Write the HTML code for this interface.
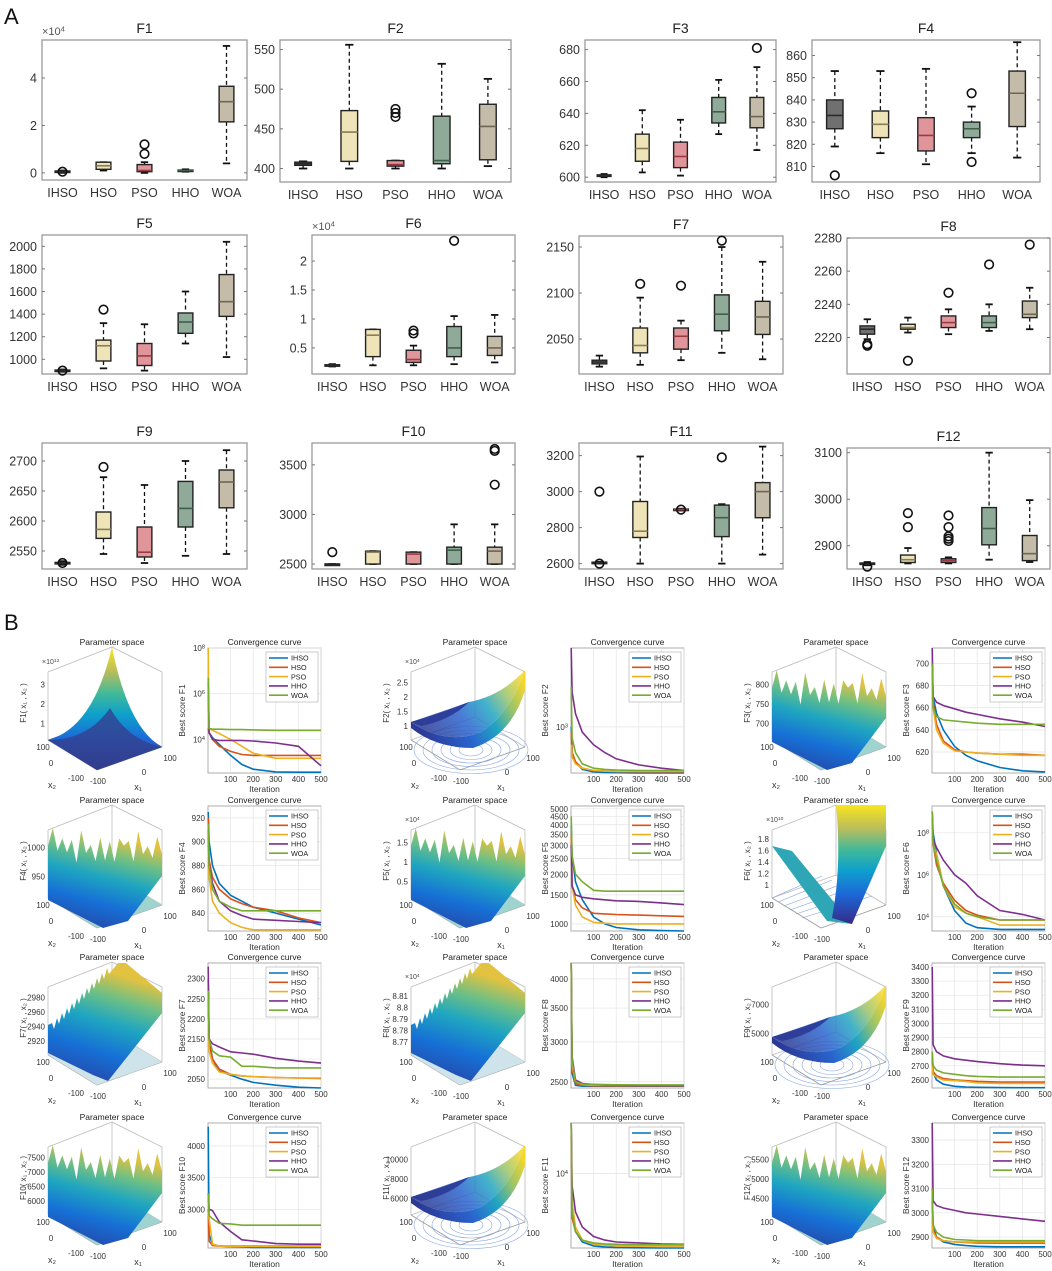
<!DOCTYPE html>
<html><head><meta charset="utf-8">
<style>
html,body{margin:0;padding:0;background:#fff;}
svg{display:block;font-family:"Liberation Sans",Arial,sans-serif;}
</style></head>
<body>
<svg id="fig" width="1052" height="1271" viewBox="0 0 1052 1271" xmlns="http://www.w3.org/2000/svg">
<defs>
<linearGradient id="parV" x1="0" y1="1" x2="0" y2="0">
<stop offset="0" stop-color="#352a87"/><stop offset="0.25" stop-color="#1c68d8"/><stop offset="0.45" stop-color="#0ea0cc"/><stop offset="0.62" stop-color="#40b99a"/><stop offset="0.8" stop-color="#b9bd5c"/><stop offset="1" stop-color="#f9e51e"/>
</linearGradient>
<linearGradient id="parN" x1="0" y1="1" x2="0.3" y2="0">
<stop offset="0" stop-color="#2a3c9c"/><stop offset="0.35" stop-color="#1670d6"/><stop offset="0.6" stop-color="#1fa6c0"/><stop offset="0.8" stop-color="#6bbf86"/><stop offset="1" stop-color="#e2c240"/>
</linearGradient>
<linearGradient id="parD" x1="0" y1="0" x2="1" y2="0">
<stop offset="0" stop-color="#24409e"/><stop offset="0.5" stop-color="#1a5fcf"/><stop offset="0.8" stop-color="#139bc8"/><stop offset="1" stop-color="#f4d52a"/>
</linearGradient>
<linearGradient id="parB" x1="0" y1="0.6" x2="1" y2="0.2">
<stop offset="0" stop-color="#2b3a96"/><stop offset="0.35" stop-color="#2a64cf"/><stop offset="0.6" stop-color="#20a5c2"/><stop offset="0.8" stop-color="#9cc46a"/><stop offset="1" stop-color="#f5d72c"/>
</linearGradient>
</defs>
<text x="4" y="24" font-size="22" fill="#111">A</text>
<text x="4" y="630" font-size="22" fill="#111">B</text>
</svg>
<script>
// ---------- Part A data ----------
const cats=['IHSO','HSO','PSO','HHO','WOA'];
const boxF1=[[0,0.02,0.05,0.08,0.1],[0.1,0.15,0.3,0.45,0.45],[0,0.05,0.1,0.35,0.45],[0.05,0.08,0.1,0.12,0.15],[0.4,2.15,3.0,3.65,5.35]];
const outF1=[[0.05],[],[0.8,1.2],[],[]];
const boxF2=[[400,404,406,408,409],[400,409,446,473,556],[400,403,405,410,410],[400,406,410,466,532],[403,411,453,481,513]];
const outF2=[[],[],[465,470,475],[],[]];
const boxF3=[[600,600.5,601,601.5,602],[603,610,618,627,642],[601,606,613,622,636],[627,634,641,650,661],[617,631,638,650,669]];
const outF3=[[],[],[],[],[681]];
const boxF4=[[819,827,833,840,853],[816,823,829,835,853],[811,817,824,832,854],[816,823,827,830,837],[814,828,843,853,866]];
const outF4=[[806],[],[],[812,843],[]];
const boxF5=[[890,895,900,905,910],[920,985,1120,1170,1320],[900,945,1030,1140,1310],[1140,1230,1330,1410,1600],[1020,1380,1510,1750,2040]];
const outF5=[[900],[1440],[],[],[]];
const boxF6=[[0.18,0.19,0.2,0.21,0.22],[0.2,0.35,0.72,0.82,0.82],[0.2,0.25,0.3,0.46,0.54],[0.22,0.35,0.5,0.87,1.05],[0.25,0.37,0.5,0.7,1.07]];
const outF6=[[],[],[0.75,0.8],[2.35],[]];
const boxF7=[[2020,2023,2025,2027,2032],[2022,2035,2043,2062,2095],[2027,2039,2053,2062,2070],[2035,2059,2077,2098,2150],[2028,2055,2074,2091,2134]];
const outF7=[[],[2110],[2108],[2157],[]];
const boxF8=[[2219,2222,2225,2227,2231],[2223,2225,2226,2228,2232],[2222,2226,2229,2233,2237],[2224,2226,2229,2233,2240],[2225,2232,2234,2242,2250]];
const outF8=[[2215,2216],[2206],[2247],[2264],[2276]];
const boxF9=[[2527,2529,2530,2531,2533],[2545,2571,2586,2615,2673],[2530,2540,2548,2590,2660],[2542,2590,2621,2666,2700],[2545,2622,2665,2685,2718]];
const outF9=[[2530],[2690],[],[],[]];
const boxF10=[[2500,2500,2500,2500,2500],[2500,2500,2620,2630,2630],[2500,2500,2600,2620,2620],[2500,2500,2640,2670,2900],[2500,2500,2630,2670,2900]];
const outF10=[[2620],[],[],[],[3300,3640,3660]];
const boxF11=[[2600,2602,2605,2608,2610],[2600,2745,2780,2945,3195],[2895,2897,2900,2903,2905],[2600,2750,2855,2925,2930],[2650,2855,3000,3050,3250]];
const outF11=[[2600,3000],[],[2900],[3190],[]];
const boxF12=[[2858,2860,2862,2863,2865],[2862,2864,2870,2880,2895],[2862,2864,2868,2872,2875],[2870,2902,2937,2982,3100],[2865,2868,2883,2922,2998]];
const outF12=[[2855],[2940,2970],[2910,2915,2920,2940,2965],[],[]];

// ---------- Part B data ----------
const algos=['IHSO','HSO','PSO','HHO','WOA'];
const iters=[1,5,20,50,100,150,200,300,400,500];
const convF1=[[3e4,2e4,1.2e4,6e3,2e3,800,500,380,370,370],[3e4,2e4,1e4,5e3,3e3,2.2e3,2e3,2e3,2e3,2e3],[1e8,3e4,2.5e4,1.8e4,1e4,5e3,2.5e3,1.5e3,1.5e3,1.5e3],[3e6,2e4,1e4,9e3,9e3,9e3,8.5e3,7e3,5e3,700],[5e6,3e4,2.8e4,2.8e4,2.7e4,2.7e4,2.6e4,2.5e4,2.5e4,2.5e4]];
const convF2=[[1000,600,500,430,410,405,402,400,400,400],[900,600,500,440,420,415,412,410,410,410],[700,550,480,440,420,415,413,413,413,413],[4800,2000,1300,900,700,600,530,470,440,420],[2200,800,600,480,440,430,425,420,420,420]];
const convF3=[[700,670,655,640,625,617,612,606,603,602],[700,665,645,630,622,620,619,618,618,617],[690,660,640,628,621,620,619,618,617,617],[714,670,665,662,659,656,654,650,647,643],[700,660,652,649,648,647,646,645,645,645]];
const convF4=[[925,900,880,865,855,850,845,840,835,830],[920,885,870,860,852,848,845,842,836,832],[900,870,850,840,832,828,826,826,826,826],[910,880,865,850,842,838,835,834,833,832],[915,880,860,850,845,842,842,842,842,842]];
const convF5=[[4000,2600,1800,1400,1100,1000,950,920,910,905],[3500,1700,1400,1250,1160,1150,1140,1130,1120,1110],[3000,1700,1300,1100,1020,1010,1000,1000,1000,1000],[3000,1700,1500,1450,1420,1400,1380,1370,1340,1310],[4500,2600,2000,1800,1600,1580,1580,1580,1580,1580]];
const convF6=[[1e9,1e8,1e7,3e5,2e4,5e3,3e3,2.5e3,2.5e3,2.5e3],[1e8,3e7,3e6,4e5,6e4,2e4,1.2e4,7e3,7e3,7e3],[1e8,3e7,1e7,3e5,3e4,1.5e4,1e4,4e3,4e3,4e3],[1e9,5e7,2e7,5e6,1e6,4e5,1e5,2e4,1.3e4,7e3],[1e9,3e7,5e6,3e5,4e4,1.5e4,1e4,7e3,7e3,7e3]];
const convF7=[[2300,2150,2100,2070,2060,2050,2042,2035,2030,2028],[2250,2140,2100,2075,2062,2058,2056,2054,2053,2052],[2200,2120,2090,2068,2062,2058,2056,2054,2053,2053],[2330,2150,2138,2130,2118,2115,2112,2102,2095,2090],[2270,2150,2120,2108,2105,2082,2082,2078,2078,2078]];
const convF8=[[4300,2600,2460,2450,2450,2450,2450,2450,2450,2450],[4300,2650,2480,2460,2455,2455,2455,2455,2455,2455],[4300,2700,2500,2470,2460,2460,2460,2460,2460,2460],[4300,2800,2520,2480,2470,2465,2462,2460,2460,2460],[4300,2750,2500,2475,2470,2468,2466,2465,2465,2465]];
const convF9=[[2800,2650,2600,2570,2555,2550,2548,2546,2545,2545],[2750,2660,2630,2610,2600,2595,2590,2585,2585,2585],[2700,2640,2620,2600,2595,2590,2580,2575,2575,2575],[3400,2850,2800,2770,2750,2740,2730,2715,2705,2700],[2800,2700,2670,2650,2640,2630,2625,2620,2620,2620]];
const convF10=[[4300,2600,2450,2420,2410,2405,2400,2400,2400,2400],[3000,2500,2430,2420,2420,2420,2420,2420,2420,2420],[2950,2850,2450,2420,2415,2415,2415,2415,2415,2415],[3250,3000,2980,2800,2650,2520,2500,2460,2450,2450],[3250,2900,2850,2780,2770,2750,2750,2750,2750,2750]];
const convF11=[[2.5e4,5000,3500,2900,2700,2650,2620,2610,2600,2600],[2e4,4500,3500,3000,2800,2750,2700,2700,2700,2700],[2.5e4,6000,3800,3000,2800,2750,2700,2700,2700,2700],[2.5e4,8000,5000,3800,3200,3000,2900,2850,2800,2780],[2.5e4,5000,3500,3000,2850,2800,2780,2760,2760,2760]];
const convF12=[[3100,2950,2900,2880,2870,2865,2862,2860,2860,2860],[3050,2930,2900,2885,2880,2878,2876,2875,2875,2875],[3000,2920,2895,2885,2880,2880,2880,2880,2880,2880],[3370,3050,3030,3020,3010,3000,2995,2985,2975,2965],[3100,2950,2920,2900,2890,2888,2885,2885,2885,2885]];

const NS='http://www.w3.org/2000/svg';
const svg=document.getElementById('fig');
function mk(tag,attrs,parent){const e=document.createElementNS(NS,tag);for(const k in attrs)e.setAttribute(k,attrs[k]);(parent||svg).appendChild(e);return e;}
function tx(s,attrs,parent){const e=mk('text',attrs,parent);e.textContent=s;return e;}
function txExp(base,exp,attrs,parent){const e=mk('text',attrs,parent);e.appendChild(document.createTextNode(base));const t=document.createElementNS(NS,'tspan');t.setAttribute('dy','-0.45em');t.setAttribute('font-size','0.7em');t.textContent=exp;e.appendChild(t);return e;}

// ---------- Box plots ----------
const boxFill=['#707070','#efe3b8','#e0959a','#8faa98','#c4bca9'];
const boxMed=['#2a2a2a','#8a7c55','#9c3a44','#3f5e4c','#6e6552'];
const boxPanels=[
 {name:'F1',x0:42,x1:247,y0:40,y1:180,lo:-0.3,hi:5.6,ticks:[0,2,4],exp:'4',stats:boxF1,outs:outF1},
 {name:'F2',x0:280,x1:511,y0:40,y1:182,lo:383,hi:562,ticks:[400,450,500,550],stats:boxF2,outs:outF2},
 {name:'F3',x0:585,x1:776,y0:40,y1:182,lo:597,hi:686,ticks:[600,620,640,660,680],stats:boxF3,outs:outF3},
 {name:'F4',x0:812,x1:1040,y0:40,y1:182,lo:803,hi:867,ticks:[810,820,830,840,850,860],stats:boxF4,outs:outF4},
 {name:'F5',x0:42,x1:247,y0:235,y1:374,lo:870,hi:2100,ticks:[1000,1200,1400,1600,1800,2000],stats:boxF5,outs:outF5},
 {name:'F6',x0:312,x1:515,y0:235,y1:374,lo:0.05,hi:2.45,ticks:[0.5,1,1.5,2],exp:'4',stats:boxF6,outs:outF6},
 {name:'F7',x0:579,x1:783,y0:236,y1:374,lo:2012,hi:2162,ticks:[2050,2100,2150],stats:boxF7,outs:outF7},
 {name:'F8',x0:847,x1:1050,y0:238,y1:374,lo:2198,hi:2280,ticks:[2220,2240,2260,2280],stats:boxF8,outs:outF8},
 {name:'F9',x0:42,x1:247,y0:443,y1:569,lo:2520,hi:2730,ticks:[2550,2600,2650,2700],stats:boxF9,outs:outF9},
 {name:'F10',x0:312,x1:515,y0:443,y1:569,lo:2450,hi:3720,ticks:[2500,3000,3500],stats:boxF10,outs:outF10},
 {name:'F11',x0:579,x1:783,y0:443,y1:569,lo:2570,hi:3270,ticks:[2600,2800,3000,3200],stats:boxF11,outs:outF11},
 {name:'F12',x0:847,x1:1050,y0:448,y1:569,lo:2850,hi:3110,ticks:[2900,3000,3100],stats:boxF12,outs:outF12}
];
boxPanels.forEach(p=>{
 const g=mk('g',{});
 
 
 const y=v=>p.y1-(v-p.lo)/(p.hi-p.lo)*(p.y1-p.y0);
 const step=(p.x1-p.x0)/5, cx=i=>p.x0+step*(i+0.5), bw=step*0.36;
 const fr=mk('rect',{x:p.x0,y:p.y0,width:p.x1-p.x0,height:p.y1-p.y0,fill:'#fff',stroke:'#9a9a9a','stroke-width':1.3},g);
 
 
 const t=tx(p.name,{x:(p.x0+p.x1)/2,y:p.y0-7,'text-anchor':'middle','font-size':14,fill:'#222'},g);
 
 
 if(p.exp){const e=txExp('\u00d710',p.exp,{x:p.x0,y:p.y0-5,'font-size':11,fill:'#555'},g);
  
  }
 p.ticks.forEach(v=>{
  mk('line',{x1:p.x0,x2:p.x0+3,y1:y(v),y2:y(v),stroke:'#777'},g);
  mk('line',{x1:p.x1,x2:p.x1-3,y1:y(v),y2:y(v),stroke:'#777'},g);
  const l=tx(String(v),{x:p.x0-5,y:y(v)+4.5,'text-anchor':'end','font-size':12.5,fill:'#333'},g);
  
  
 });
 cats.forEach((c,i)=>{
  const s=p.stats[i], x=cx(i);
  mk('line',{x1:x,x2:x,y1:y(s[4]),y2:y(s[3]),stroke:'#111','stroke-dasharray':'4,3','stroke-width':1.3},g);
  mk('line',{x1:x,x2:x,y1:y(s[1]),y2:y(s[0]),stroke:'#111','stroke-dasharray':'4,3','stroke-width':1.3},g);
  mk('line',{x1:x-bw/4,x2:x+bw/4,y1:y(s[4]),y2:y(s[4]),stroke:'#111','stroke-width':1.8},g);
  mk('line',{x1:x-bw/4,x2:x+bw/4,y1:y(s[0]),y2:y(s[0]),stroke:'#111','stroke-width':1.8},g);
  const b=mk('rect',{x:x-bw/2,y:y(s[3]),width:bw,height:Math.max(1.5,y(s[1])-y(s[3])),fill:boxFill[i],stroke:'#222','stroke-width':1.4},g);
  
  
  mk('line',{x1:x-bw/2,x2:x+bw/2,y1:y(s[2]),y2:y(s[2]),stroke:boxMed[i],'stroke-width':1.6},g);
  p.outs[i].forEach(o=>{
   const oc=mk('circle',{cx:x,cy:y(o),r:4.3,fill:'none',stroke:'#111','stroke-width':1.6},g);
   
   
  });
  const cl=tx(c,{x:x,y:p.y1+17,'text-anchor':'middle','font-size':12.5,fill:'#333'},g);
  
  
 });
});

// ---------- Convergence curves ----------
const lineCols=['#0072BD','#D95319','#EDB120','#7E2F8E','#77AC30'];
const rowTops=[648,806,963,1123];
const groupOff=[0,363,724];
const convPanels=[
 {name:'F1',log:true,lo:340,hi:1e8,ticks:[1e4,1e6,1e8],data:convF1,surf:'cusp',z:['1','2','3'],zexp:'12'},
 {name:'F2',log:true,lo:400,hi:4800,ticks:[1e3],data:convF2,surf:'bowl',z:['1','1.5','2','2.5'],zexp:'4'},
 {name:'F3',log:false,lo:601,hi:714,ticks:[620,640,660,680,700],data:convF3,surf:'noisy',z:['700','750','800']},
 {name:'F4',log:false,lo:825,hi:930,ticks:[840,860,880,900,920],data:convF4,surf:'noisy',z:['950','1000']},
 {name:'F5',log:true,lo:905,hi:5200,ticks:[1000,1500,2000,2500,3000,3500,4000,4500,5000],data:convF5,surf:'noisy',z:['0.5','1','1.5'],zexp:'4'},
 {name:'F6',log:true,lo:2100,hi:1.9e9,ticks:[1e4,1e6,1e8],data:convF6,surf:'valley',z:['1','1.2','1.4','1.6','1.8'],zexp:'10'},
 {name:'F7',log:false,lo:2028,hi:2339,ticks:[2050,2100,2150,2200,2250,2300],data:convF7,surf:'ridge',z:['2920','2940','2960','2980']},
 {name:'F8',log:true,lo:2430,hi:4300,ticks:[2500,3000,3500,4000],data:convF8,surf:'ridge2',z:['8.77','8.78','8.79','8.8','8.81'],zexp:'4'},
 {name:'F9',log:false,lo:2543,hi:3428,ticks:[2600,2700,2800,2900,3000,3100,3200,3300,3400],data:convF9,surf:'bowl',z:['5000','7000']},
 {name:'F10',log:false,lo:2390,hi:4360,ticks:[3000,3500,4000],data:convF10,surf:'noisy',z:['6000','6500','7000','7500']},
 {name:'F11',log:true,lo:2600,hi:2.5e4,ticks:[1e4],data:convF11,surf:'bowl',z:['6000','8000','10000']},
 {name:'F12',log:false,lo:2855,hi:3370,ticks:[2900,3000,3100,3200,3300],data:convF12,surf:'noisy',z:['4500','5000','5500']}
];
const xTicks=[100,200,300,400,500];
const jag=[0,18,4,22,8,26,2,20,10,30,6,24,12,28,4,16,9,25,3,21,11,27,5,19];

convPanels.forEach((p,k)=>{
 const r=Math.floor(k/3), c=k%3, off=groupOff[c], top=rowTops[r];
 const L=208+off, W=113, H=125, B=top+H;
 const g=mk('g',{});
 
 
 const f=v=>p.log?(Math.log10(v)-Math.log10(p.lo))/(Math.log10(p.hi)-Math.log10(p.lo)):(v-p.lo)/(p.hi-p.lo);
 const y=v=>B-Math.max(0,Math.min(1,f(v)))*H;
 const x=i=>L+i/500*W;
 mk('rect',{x:L,y:top,width:W,height:H,fill:'#fff',stroke:'#999','stroke-width':0.8},g);
 xTicks.forEach(v=>{mk('line',{x1:x(v),x2:x(v),y1:top,y2:B,stroke:'#e4e4e4','stroke-width':0.7},g);
  const l=tx(String(v),{x:x(v),y:B+9,'text-anchor':'middle','font-size':8,fill:'#333'},g);
  
  });
 p.ticks.forEach(v=>{mk('line',{x1:L,x2:L+W,y1:y(v),y2:y(v),stroke:'#e4e4e4','stroke-width':0.7},g);
  let l;
  if(p.log&&v>=1e3&&Math.log10(v)%1===0&&p.ticks.length<=3){l=txExp('10',String(Math.log10(v)),{x:L-3,y:y(v)+3,'text-anchor':'end','font-size':8,fill:'#333'},g);}
  else{l=tx(String(v),{x:L-3,y:y(v)+3,'text-anchor':'end','font-size':8,fill:'#333'},g);}
  
  });
 const ti=tx('Convergence curve',{x:L+W/2,y:top-3,'text-anchor':'middle','font-size':8.5,fill:'#222'},g);
 
 
 const xl=tx('Iteration',{x:L+W/2,y:B+19,'text-anchor':'middle','font-size':8.5,fill:'#333'},g);
 
 
 const yl=tx('Best score '+p.name,{x:0,y:0,'text-anchor':'middle','font-size':8.5,fill:'#333',transform:`translate(${L-23},${top+H/2}) rotate(-90)`},g);
 
 
 p.data.forEach((s,i)=>{
  const pts=s.map((v,j)=>x(iters[j]).toFixed(1)+','+y(v).toFixed(1)).join(' ');
  const pl=mk('polyline',{points:pts,fill:'none',stroke:lineCols[i],'stroke-width':1.6},g);
  
  
 });
 const lg=mk('g',{},g);
 
 
 const lx=L+W-55, ly=top+4;
 mk('rect',{x:lx,y:ly,width:52,height:50,fill:'#fff',stroke:'#aaa','stroke-width':0.6},lg);
 algos.forEach((a,i)=>{
  mk('line',{x1:lx+3,x2:lx+22,y1:ly+6+i*9.3,y2:ly+6+i*9.3,stroke:lineCols[i],'stroke-width':1.6},lg);
  const le=tx(a,{x:lx+25,y:ly+8.7+i*9.3,'font-size':7.2,fill:'#222'},lg);
  
  
 });

 // --- surface panel
 const sx=48+off, sy=top;
 const sg=mk('g',{transform:`translate(${sx},${sy})`});
 
 
 const P={bt:[64,-1],lt:[0,24],rt:[114,24],lb:[0,92],fb:[49,122],rb:[114,99],bb:[64,69]};
 const ln=(a,b,col)=>mk('line',{x1:a[0],y1:a[1],x2:b[0],y2:b[1],stroke:col||'#bbb','stroke-width':0.8},sg);
 ln(P.lt,P.bt);ln(P.bt,P.rt);ln(P.lt,P.lb);ln(P.rt,P.rb);ln(P.bt,P.bb);ln(P.bb,P.lb);ln(P.bb,P.rb);
 ln(P.lb,P.fb,'#999');ln(P.fb,P.rb,'#999');
 if(p.surf==='cusp'){
  mk('path',{d:'M0,92 L49,122 L114,99 L64,69 Z',fill:'#2f3d8f'},sg);
  mk('path',{d:'M0,92 Q45,80 64,-1 Q80,80 114,99 L49,122 Z',fill:'url(#parV)'},sg);
  mk('path',{d:'M0,92 Q40,92 62,60 Q80,92 114,99 L49,122 Z',fill:'#33418f',opacity:0.8},sg);
 } else if(p.surf==='bowl'){
  for(let e=0;e<6;e++) mk('ellipse',{cx:60,cy:102,rx:12+e*9,ry:6+e*3.5,fill:'none',stroke:'#8aa6e4','stroke-width':0.6},sg);
  mk('path',{d:'M0,74 Q35,98 70,84 Q100,65 114,22 L114,42 Q100,88 62,100 Q25,100 0,80 Z',fill:'url(#parB)'},sg);
  mk('path',{d:'M0,74 Q30,64 58,54 Q90,48 114,22 Q100,65 70,84 Q35,98 0,74 Z',fill:'url(#parB)',opacity:0.85},sg);
  mk('path',{d:'M0,74 Q28,66 58,54 Q40,72 10,78 Z',fill:'#2b3a96',opacity:0.9},sg);
 } else if(p.surf==='valley'){
  for(let e=0;e<6;e++) mk('line',{x1:0+e*6,y1:92+e*4,x2:50+e*10,y2:70+e*4,stroke:'#7f9fe0','stroke-width':0.6},sg);
  mk('path',{d:'M0,40 L20,45 L80,118 L55,115 Z',fill:'#2fa6b5'},sg);
  mk('path',{d:'M64,-1 L114,-1 L114,40 L80,118 L60,112 Q70,60 64,-1 Z',fill:'url(#parV)'},sg);
 } else if(p.surf==='ridge'||p.surf==='ridge2'){
  mk('path',{d:'M0,92 L49,122 L114,99 L64,69 Z',fill:'#cfe3ea'},sg);
  let d='M0,62 ';
  for(let j=0;j<12;j++){d+=`L${4+j*5},${60-j*5} L${6+j*5},${66-j*5} `;}
  d+='L70,0 L78,0 L114,30 L114,50 L60,118 L45,112 L0,90 Z';
  mk('path',{d:d,fill:'url(#parN)'},sg);
 } else {
  mk('path',{d:'M0,92 L49,122 L114,99 L64,69 Z',fill:'#9fd3d0'},sg);
  let d='M0,40 ';
  for(let j=0;j<jag.length;j++){d+=`L${(j+1)*4.75},${22+jag[j]*1.1+(j%3)*3} `;}
  d+='L114,70 L80,115 L55,122 L0,94 Z';
  mk('path',{d:d,fill:'url(#parN)'},sg);
 }
 const zn=p.z.length;
 p.z.forEach((lab,i)=>{
  const zy=88-(i+0.5)*(58/zn);
  const zl=tx(lab,{x:-3,y:zy,'text-anchor':'end','font-size':8,fill:'#333'},sg);
  
  
 });
 if(p.zexp){const ze=txExp('\u00d710',p.zexp,{x:-6,y:16,'font-size':7,fill:'#444'},sg);
  
  }
 const zt=tx(p.name+'( x\u2081 , x\u2082 )',{x:0,y:0,'text-anchor':'middle','font-size':8,fill:'#333',transform:`translate(-22,55) rotate(-90)`},sg);
 
 
 [['100',-5,102],['0',3,118],['-100',28,133],['-100',50,136],['0',96,127],['100',122,113]].forEach(a=>{
  const al=tx(a[0],{x:a[1],y:a[2],'text-anchor':'middle','font-size':8,fill:'#333'},sg);
  
  
 });
 const x2=tx('x\u2082',{x:4,y:140,'text-anchor':'middle','font-size':9,fill:'#333'},sg);
 
 
 const x1=tx('x\u2081',{x:90,y:142,'text-anchor':'middle','font-size':9,fill:'#333'},sg);
 
 
 const st=tx('Parameter space',{x:64,y:-3,'text-anchor':'middle','font-size':8.5,fill:'#222'},sg);
 
 
});
</script>
</body></html>
